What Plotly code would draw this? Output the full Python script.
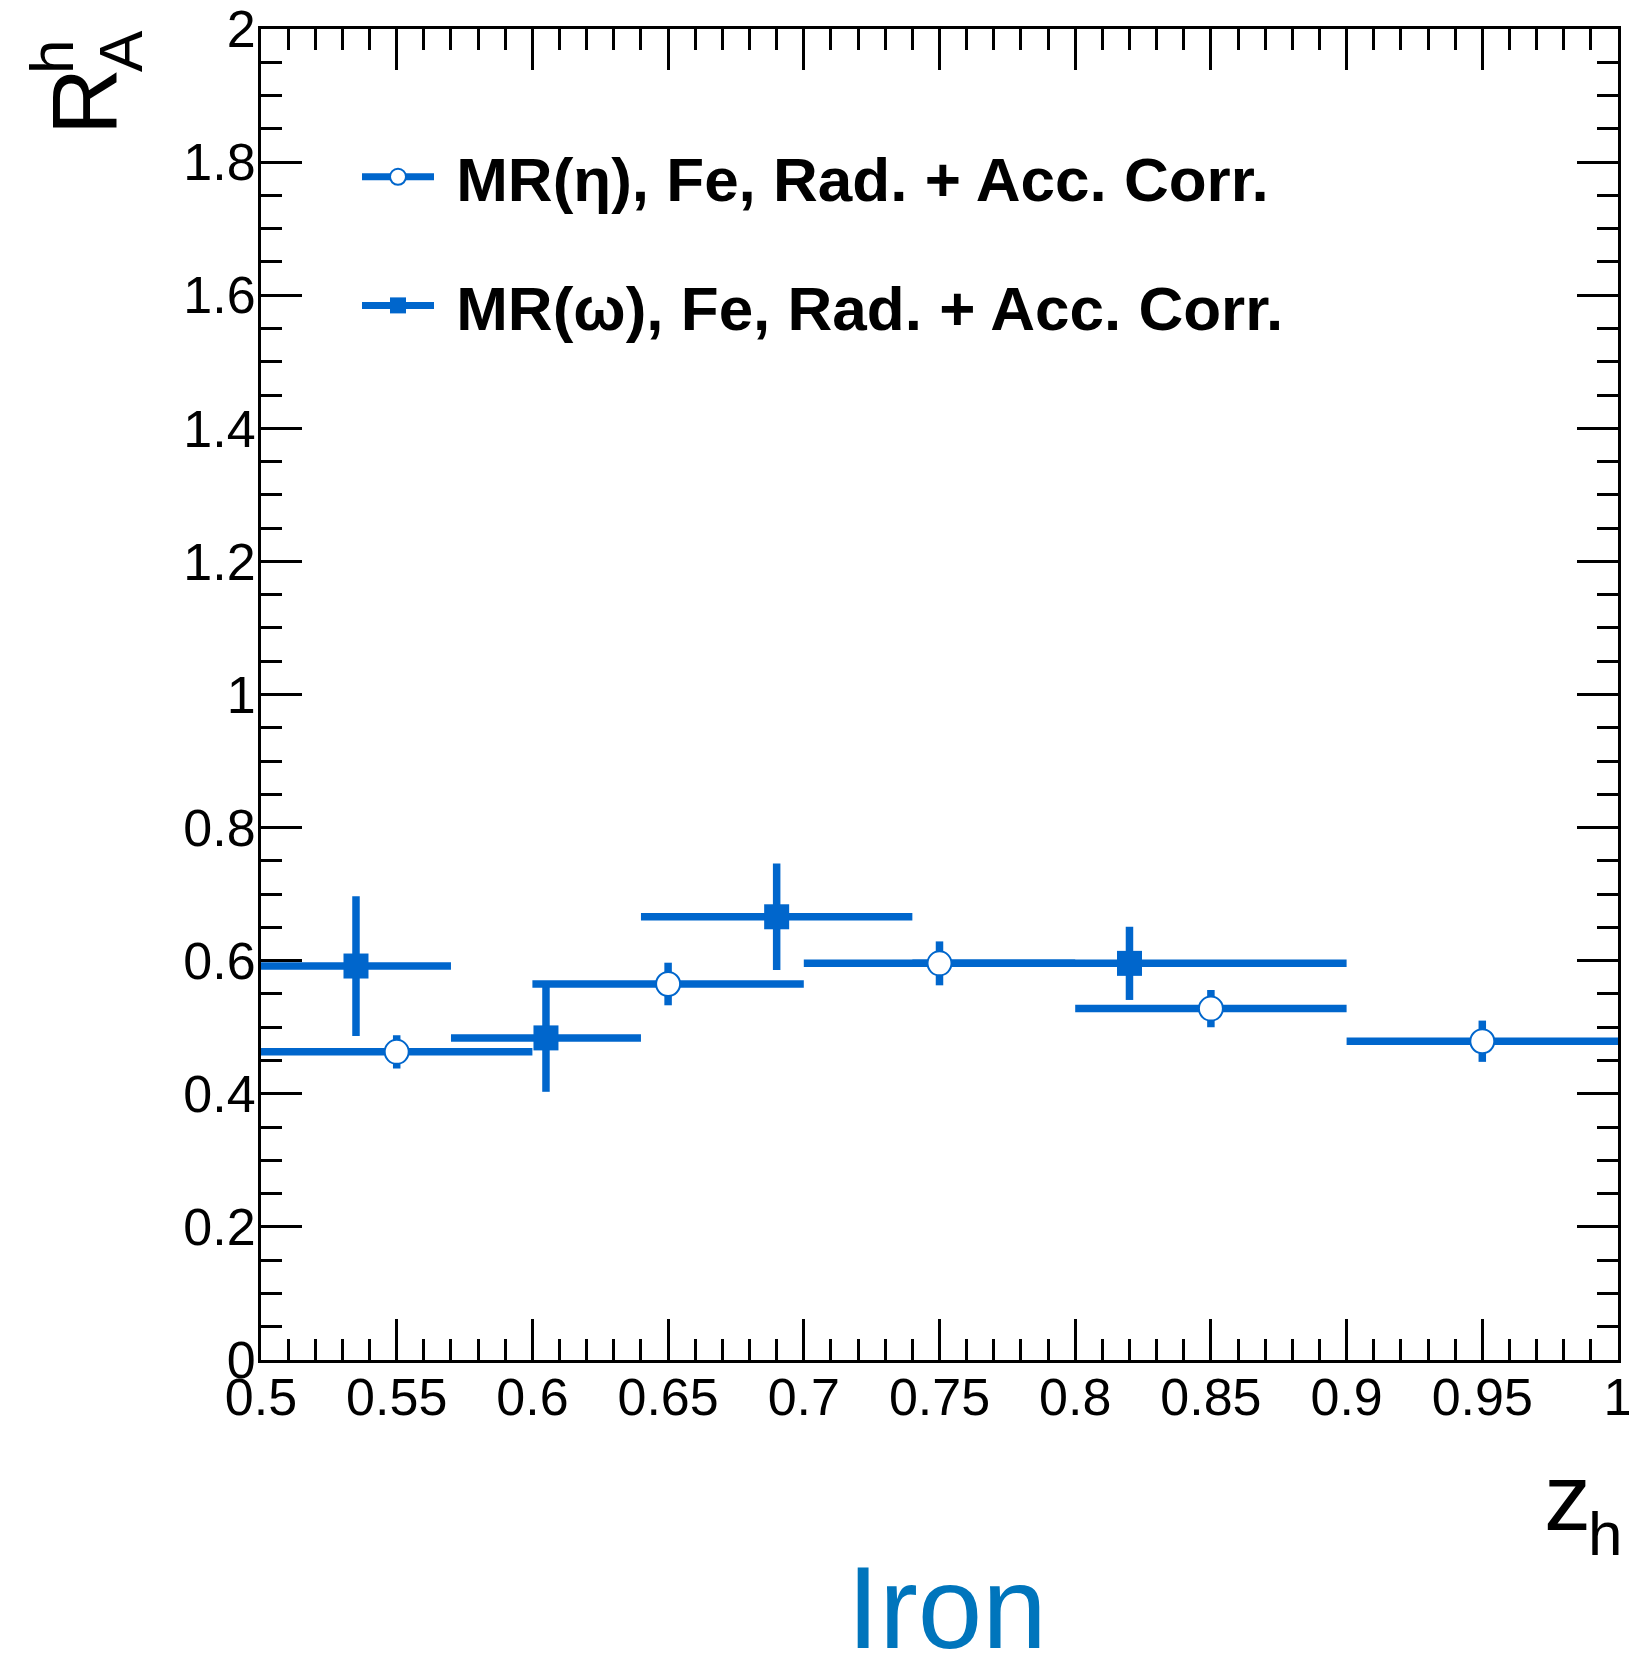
import plotly.graph_objects as go

# ---- data ----
eta_z = [0.55, 0.65, 0.75, 0.85, 0.95]
eta_zerr = [0.05, 0.05, 0.05, 0.05, 0.05]
eta_r = [0.463, 0.565, 0.596, 0.528, 0.479]
eta_rerr = [0.025, 0.032, 0.033, 0.028, 0.031]

omega_z = [0.535, 0.605, 0.69, 0.82]
omega_zerr = [0.035, 0.035, 0.05, 0.08]
omega_r = [0.592, 0.484, 0.666, 0.596]
omega_rerr = [0.105, 0.081, 0.080, 0.055]

x_tickvals = [0.5, 0.55, 0.6, 0.65, 0.7, 0.75, 0.8, 0.85, 0.9, 0.95, 1.0]
x_ticktext = ["0.5", "0.55", "0.6", "0.65", "0.7", "0.75", "0.8", "0.85", "0.9", "0.95", "1"]
y_tickvals = [0, 0.2, 0.4, 0.6, 0.8, 1.0, 1.2, 1.4, 1.6, 1.8, 2.0]
y_ticktext = ["0", "0.2", "0.4", "0.6", "0.8", "1", "1.2", "1.4", "1.6", "1.8", "2"]

eta_label = "MR(η), Fe, Rad. + Acc. Corr."
omega_label = "MR(ω), Fe, Rad. + Acc. Corr."

BLUE = "#0066CC"
TITLE_BLUE = "#0075BC"
FONT = "Liberation Sans, Arial, Helvetica, sans-serif"

W, H = 1629, 1662
L, R, T, B = 261, 11, 29, 302
PW, PH = W - L - R, H - T - B


def px(xpix):
    return (xpix - L) / PW


def py(ypix):
    return (H - B - ypix) / PH


fig = go.Figure()

fig.add_trace(go.Scatter(
    x=omega_z, y=omega_r, mode="markers", showlegend=False,
    marker=dict(symbol="square", size=25, color=BLUE, line=dict(width=0)),
    error_x=dict(type="data", array=omega_zerr, color=BLUE, thickness=7.5, width=0),
    error_y=dict(type="data", array=omega_rerr, color=BLUE, thickness=7.5, width=0),
))
fig.add_trace(go.Scatter(
    x=eta_z, y=eta_r, mode="markers", showlegend=False,
    marker=dict(symbol="circle", size=24, color="white", line=dict(width=2, color=BLUE)),
    error_x=dict(type="data", array=eta_zerr, color=BLUE, thickness=7.5, width=0),
    error_y=dict(type="data", array=eta_rerr, color=BLUE, thickness=7.5, width=0),
))

# legend entries
fig.add_trace(go.Scatter(
    x=[None], y=[None], mode="lines+markers", name="\u00a0" + eta_label, legendgroup="a",
    line=dict(color=BLUE, width=7),
    marker=dict(symbol="circle", size=24, color="white", line=dict(width=2, color=BLUE)),
))
fig.add_trace(go.Scatter(
    x=[None], y=[None], mode="lines+markers", name="\u00a0" + omega_label, legendgroup="b",
    line=dict(color=BLUE, width=7),
    marker=dict(symbol="square", size=25, color=BLUE),
))

axis_common = dict(
    showline=True, linecolor="black", linewidth=3, mirror="ticks",
    ticks="inside", tickcolor="black", tickwidth=3, ticklen=41,
    showgrid=False, zeroline=False, automargin=False,
    ticklabeloverflow="allow",
    tickfont=dict(family=FONT, size=52, color="black"),
)

fig.update_xaxes(range=[0.5, 1.0], tickmode="array", tickvals=x_tickvals, ticktext=x_ticktext,
                 ticklabelstandoff=-10,
                 minor=dict(dtick=0.01, tick0=0.5, ticks="inside", ticklen=21, tickwidth=3,
                            tickcolor="black", showgrid=False),
                 **axis_common)
fig.update_yaxes(range=[0, 2], tickmode="array", tickvals=y_tickvals, ticktext=y_ticktext,
                 ticklabelstandoff=-8,
                 minor=dict(dtick=0.05, tick0=0, ticks="inside", ticklen=21, tickwidth=3,
                            tickcolor="black", showgrid=False),
                 **axis_common)

annotations = [
    # y-axis title R^h_A (stacked super/subscript)
    dict(text="R", x=px(85), y=py(102), textangle=-90,
         font=dict(family=FONT, size=93, color="black")),
    dict(text="h", x=px(51), y=py(57), textangle=-90,
         font=dict(family=FONT, size=62, color="black")),
    dict(text="A", x=px(121), y=py(51), textangle=-90,
         font=dict(family=FONT, size=62, color="black")),
    # x-axis title z_h
    dict(text="z", x=px(1567), y=py(1497),
         font=dict(family=FONT, size=94, color="black")),
    dict(text="h", x=px(1605), y=py(1533),
         font=dict(family=FONT, size=62, color="black")),
    # caption
    dict(text="Iron", x=px(947), y=py(1608),
         font=dict(family=FONT, size=116, color=TITLE_BLUE)),
]
for a in annotations:
    a.update(xref="paper", yref="paper", xanchor="center", yanchor="middle",
             showarrow=False)

fig.update_layout(
    width=W, height=H,
    margin=dict(l=L, r=R, t=T, b=B, pad=0),
    paper_bgcolor="white", plot_bgcolor="white",
    annotations=annotations,
    showlegend=True,
    legend=dict(
        x=px(357), y=py(130), xanchor="left", yanchor="top",
        bgcolor="rgba(0,0,0,0)", borderwidth=0,
        font=dict(family=FONT, size=62, color="black", weight="bold"),
        itemwidth=72, tracegroupgap=45,
    ),
)

fig.write_html("out.html")
